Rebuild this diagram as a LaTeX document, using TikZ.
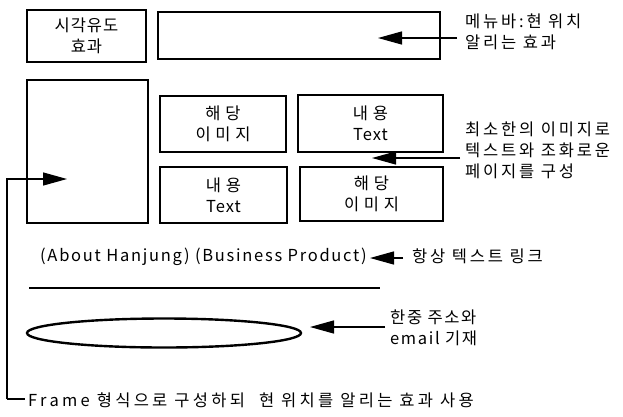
\documentclass[tikz,border=0pt]{standalone}
\usepackage{fontspec}
\setmainfont{Noto Sans CJK KR}[LetterSpace=6]
\usetikzlibrary{arrows.meta,shapes.geometric}
\tikzset{
  boxn/.style={draw,line width=2.4pt,inner sep=0pt,align=center,font=\fontsize{16.5}{21}\selectfont},
  lbl/.style={anchor=west,inner sep=0pt,align=left,font=\fontsize{16.5}{21}\selectfont\addfontfeature{LetterSpace=17}},
  arr/.style={line width=1.3pt,-{Triangle[length=24pt,width=13pt]}},
}
\begin{document}
\begin{tikzpicture}[x=1pt,y=-1pt]
\useasboundingbox (0,0) rectangle (623,416);
% boxes
\node[boxn,minimum width=119pt,minimum height=52pt] (vis) at (86.5,36) {시각유도\\효과};
\node[boxn,minimum width=282pt,minimum height=47pt] (menu) at (299,35.5) {};
\node[boxn,minimum width=121pt,minimum height=143pt] (frame) at (87.5,151.5) {};
\node[boxn,minimum width=126pt,minimum height=56pt] (img1) at (223,124) {해 당\\이 미 지};
\node[boxn,minimum width=145pt,minimum height=57pt] (txt1) at (370.5,123.5) {내 용\\Text};
\node[boxn,minimum width=127pt,minimum height=56pt] (txt2) at (223.5,195) {내 용\\Text};
\node[boxn,minimum width=143pt,minimum height=54pt] (img2) at (371.5,194) {해 당\\이 미 지};
% links text and rule
\node[lbl,font=\fontsize{16.5}{21}\selectfont\addfontfeature{LetterSpace=10.5}] (links) at (40,257) {(About Hanjung) (Business Product)};
\coordinate (ruleL) at (29,288);
\coordinate (ruleR) at (380,288);
\draw[line width=2.8pt] (ruleL) -- (ruleR);
\node[draw,ellipse,line width=2.4pt,minimum width=274pt,minimum height=29pt] (addr) at (164,333) {};
% labels
\node[lbl] (menuL) at (465,32) {메뉴바:현 위치\\알리는 효과};
\node[lbl] (midL) at (465,150) {최소한의 이미지로\\텍스트와 조화로운\\페이지를 구성};
\node[lbl] (linkL) at (412,256) {항상 텍스트 링크};
\node[lbl,font=\fontsize{16.5}{21}\selectfont\addfontfeature{LetterSpace=10}] (addrL) at (390,328) {한중 주소와\\email 기재};
\node[lbl,font=\fontsize{16.5}{21}\selectfont\addfontfeature{LetterSpace=20}] (frameL) at (28,400) {Frame 형식으로 구성하되\ \ 현 위치를 알리는 효과 사용};
% arrow ends
\coordinate (menuT) at (457,38);
\coordinate (menuH) at (378,38);
\coordinate (midT) at (460,158);
\coordinate (midH) at (372,158);
\coordinate (linkT) at (403,258);
\coordinate (linkH) at (370,258);
\coordinate (addrT) at (385,327);
\coordinate (addrH) at (310,327);
\coordinate (frT) at (7,179);
\coordinate (frH) at (67,179);
\coordinate (frB) at (7,399);
\coordinate (frE) at (25,399);
\draw[arr] (menuT) -- (menuH);
\draw[arr] (midT) -- (midH);
\draw[arr] (linkT) -- (linkH);
\draw[arr] (addrT) -- (addrH);
\draw[arr] (frB) -- (frT) -- (frH);
\draw[line width=1.3pt] (frB) -- (frE);
\end{tikzpicture}
\end{document}
